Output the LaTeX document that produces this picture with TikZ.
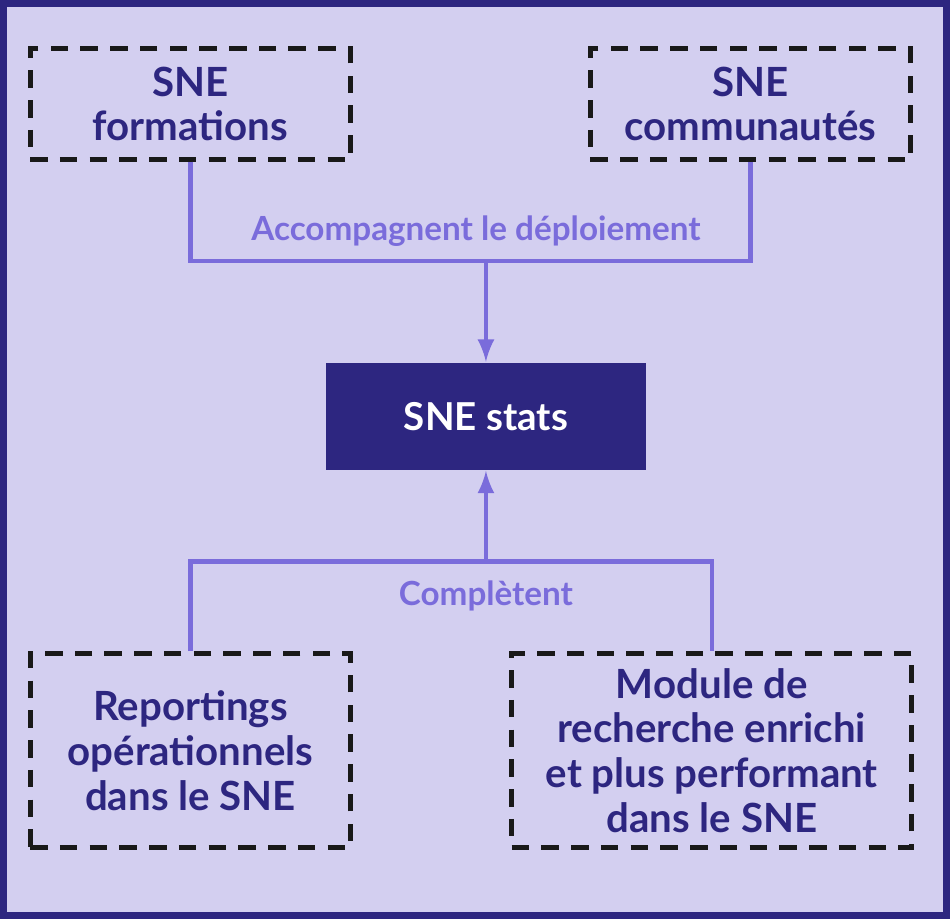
\documentclass[tikz,border=0pt]{standalone}
\usepackage{fontspec}
\setmainfont{Lato}
\definecolor{fondlav}{HTML}{D3CFF0}
\definecolor{navy}{HTML}{2D2680}
\definecolor{lien}{HTML}{7A6CDB}
\tikzset{
    boite/.style={draw=black!90, dashed, line width=1.4pt, dash pattern=on 5pt off 3.5pt, text=navy, font=\bfseries\fontsize{11.5}{12.8}\selectfont, align=center, inner sep=0pt},
    central/.style={fill=navy, text=white, font=\bfseries\fontsize{11}{13}\selectfont, inner sep=0pt},
    lienligne/.style={draw=lien, line width=1.2pt},
    etiquette/.style={text=lien, font=\bfseries\fontsize{9.5}{11}\selectfont}
}
\begin{document}
\begin{tikzpicture}[>=latex, x=0.01cm, y=-0.01cm]
        \fill[fondlav](0,0)rectangle(950,919);
        \draw[navy, line width=2pt](1,1)rectangle(949,918);
        % boites
        \node[boite, minimum width=3.22cm, minimum height=1.11cm](form) at (189,102) {SNE\\formations};
        \node[boite, minimum width=3.22cm, minimum height=1.11cm](comm) at (752,102) {SNE\\communautés};
        \node[central, minimum width=3.21cm, minimum height=1.08cm](stats) at (486,416) {SNE stats};
        \node[boite, minimum width=3.22cm, minimum height=1.95cm](repo) at (189,752) {Reportings\\opérationnels\\dans le SNE};
        \node[boite, minimum width=4.02cm, minimum height=1.95cm](modu) at (713,752) {Module de\\recherche enrichi\\et plus performant\\dans le SNE};
        % liens
        \coordinate (haut) at (486,260);
        \coordinate (bas) at (486,562);
        \draw[lienligne](form.south)|-(haut)-|(comm.south);
        \draw[lienligne,->](haut)--(stats.north);
        \draw[lienligne](repo.north)|-(bas)-|(modu.north);
        \draw[lienligne,->](bas)--(stats.south);
        \node[etiquette](acc) at (476,230) {Accompagnent le déploiement};
        \node[etiquette](comp) at (486,597) {Complètent};
\end{tikzpicture}
\end{document}
